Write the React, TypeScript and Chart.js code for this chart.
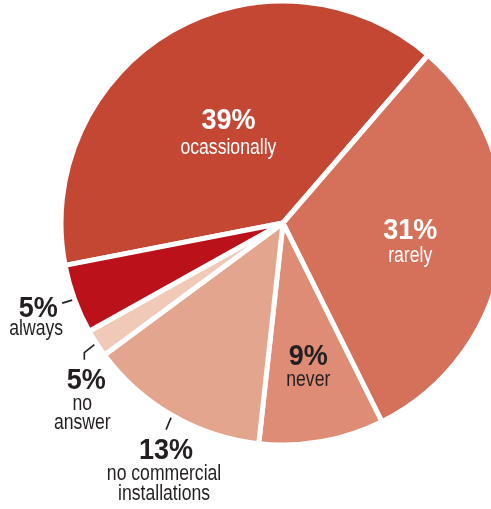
import React, { useEffect, useRef } from 'react';
import { Chart, registerables } from 'chart.js';

Chart.register(...registerables);

// ---- data ----
const categories = ['ocassionally', 'rarely', 'never', 'no commercial\ninstallations', 'no\nanswer', 'always'];
const values = [39, 31, 9, 13, 2, 5];
const percentLabels = ['39%', '31%', '9%', '13%', '5%', '5%'];
const colors = ['#C44734', '#D5715A', '#DE8C76', '#E3A58E', '#F0C9B8', '#BA111B'];

// ---- label placement (style, not data) ----
type Place =
  | { mode: 'inside'; frac: number; color: string; gap: number }
  | { mode: 'outside'; leader: [number, number][]; text: [number, number]; sub: [number, number]; gap: number };

const placement: Place[] = [
  { mode: 'inside', frac: 0.496, color: '#ffffff', gap: 25 },
  { mode: 'inside', frac: 0.584, color: '#ffffff', gap: 23 },
  { mode: 'inside', frac: 0.658, color: '#231F20', gap: 21 },
  { mode: 'outside', leader: [[-5, 12]], text: [0, 29], sub: [-2, 50], gap: 20 },
  { mode: 'outside', leader: [[-10, 8], [-10, 15]], text: [2, 29], sub: [-2, 50], gap: 19 },
  { mode: 'outside', leader: [[-10, 3]], text: [-24, 14], sub: [-26, 32], gap: 19 },
];

const PCT_FONT = "bold 30px 'Liberation Sans', Arial, sans-serif";
const PCT_SCALE = 0.9;
const SUB_FONT = "22px 'Liberation Sans', Arial, sans-serif";
const SUB_SCALE = 0.8;
const DARK = '#231F20';

function drawText(ctx: CanvasRenderingContext2D, text: string, x: number, y: number, font: string, sx: number) {
  ctx.save();
  ctx.translate(x, y);
  ctx.scale(sx, 1);
  ctx.font = font;
  ctx.fillText(text, 0, 0);
  ctx.restore();
}

const labelPlugin = {
  id: 'sliceLabels',
  afterDatasetsDraw(chart: any) {
    const ctx: CanvasRenderingContext2D = chart.ctx;
    const meta = chart.getDatasetMeta(0);
    ctx.save();
    ctx.textAlign = 'center';
    ctx.textBaseline = 'alphabetic';
    meta.data.forEach((arc: any, i: number) => {
      const p = arc.getProps(['x', 'y', 'startAngle', 'endAngle', 'outerRadius'], true);
      const mid = (p.startAngle + p.endAngle) / 2;
      const visR = p.outerRadius - 2.5;
      const pl = placement[i];
      const lines = categories[i].split('\n');
      if (pl.mode === 'inside') {
        const ax = p.x + Math.cos(mid) * visR * pl.frac;
        const ay = p.y + Math.sin(mid) * visR * pl.frac;
        ctx.fillStyle = pl.color;
        drawText(ctx, percentLabels[i], ax, ay, PCT_FONT, PCT_SCALE);
        lines.forEach((ln, k) => drawText(ctx, ln, ax, ay + pl.gap * (k + 1), SUB_FONT, SUB_SCALE));
      } else {
        const sx = p.x + Math.cos(mid) * (visR + 5);
        const sy = p.y + Math.sin(mid) * (visR + 5);
        ctx.strokeStyle = DARK;
        ctx.lineWidth = 1.6;
        ctx.beginPath();
        ctx.moveTo(sx, sy);
        pl.leader.forEach(([dx, dy]) => ctx.lineTo(sx + dx, sy + dy));
        ctx.stroke();
        const [ex, ey] = pl.leader[pl.leader.length - 1];
        const bx = sx + ex;
        const by = sy + ey;
        ctx.fillStyle = DARK;
        drawText(ctx, percentLabels[i], bx + pl.text[0], by + pl.text[1], PCT_FONT, PCT_SCALE);
        lines.forEach((ln, k) => drawText(ctx, ln, bx + pl.sub[0], by + pl.sub[1] + pl.gap * k, SUB_FONT, SUB_SCALE));
      }
    });
    ctx.restore();
  },
};

export default function App() {
  const ref = useRef<HTMLCanvasElement | null>(null);
  useEffect(() => {
    if (!ref.current) return;
    const chart = new Chart(ref.current, {
      type: 'pie',
      data: {
        labels: categories.map((c) => c.replace('\n', ' ')),
        datasets: [
          {
            data: values,
            backgroundColor: colors,
            borderColor: '#ffffff',
            borderWidth: 5,
            radius: 222,
          } as any,
        ],
      },
      options: {
        responsive: false,
        animation: false,
        rotation: 259,
        layout: { padding: { top: 0, left: 0, right: 0, bottom: 63 } },
        plugins: { legend: { display: false }, tooltip: { enabled: false } },
      },
      plugins: [labelPlugin],
    });
    return () => chart.destroy();
  }, []);
  return (
    <div
      style={{
        position: 'absolute',
        left: 0,
        top: 0,
        width: 491,
        height: 509,
        overflow: 'hidden',
        background: '#ffffff',
      }}
    >
      <canvas ref={ref} width={566} height={509} style={{ display: 'block', width: 566, height: 509 }} />
    </div>
  );
}
